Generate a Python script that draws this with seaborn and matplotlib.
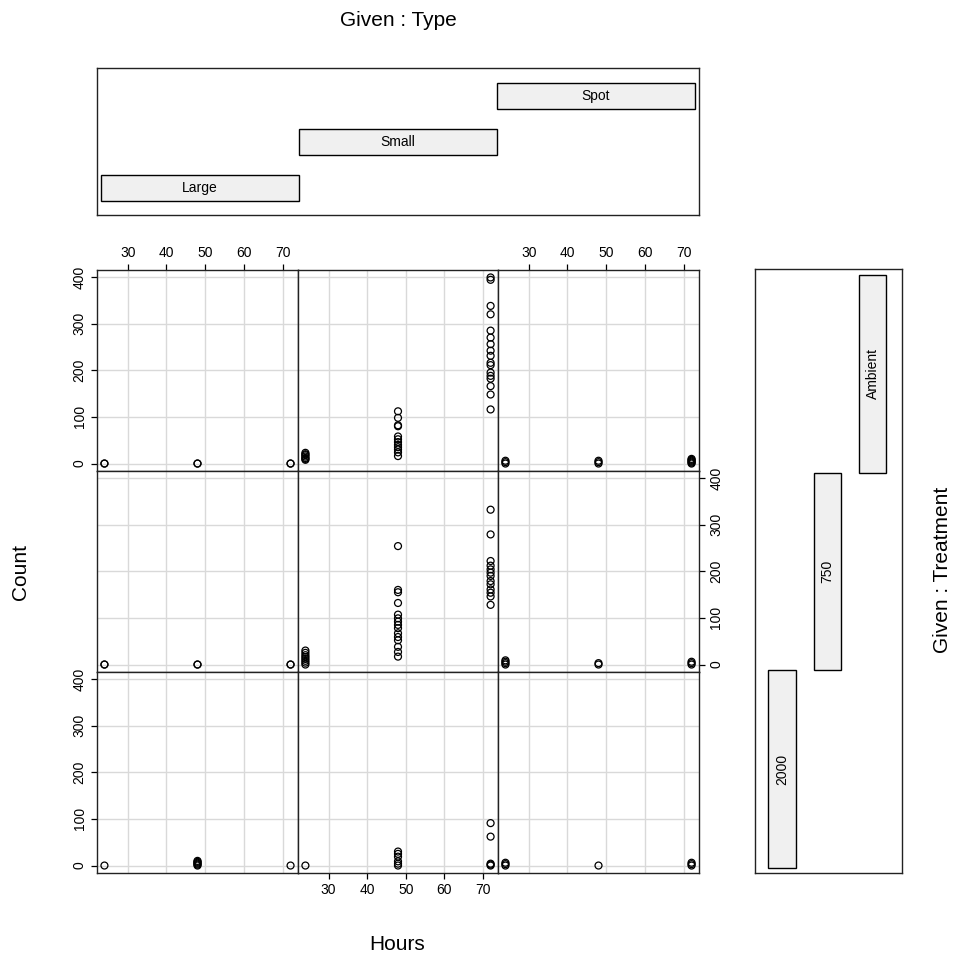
import matplotlib
matplotlib.use("Agg")
import matplotlib.pyplot as plt
import seaborn as sns
import pandas as pd

sns.set_theme(style="white")
plt.rcParams['font.family'] = ['Liberation Sans', 'DejaVu Sans']
plt.rcParams['text.color'] = 'black'
plt.rcParams['axes.labelcolor'] = 'black'
plt.rcParams['xtick.color'] = 'black'
plt.rcParams['ytick.color'] = 'black'

# ---------------- data ----------------
TYPES = ["Large", "Small", "Spot"]
TREATMENTS = ["2000", "750", "Ambient"]          # bottom row -> top row
HOUR_TICKS = [30, 40, 50, 60, 70]
COUNT_TICKS = [0, 100, 200, 300, 400]

# Ambient
ambient_large_hours = [24, 24, 48, 48, 72, 72]
ambient_large_count = [0, 0, 0, 0, 0, 0]
ambient_small_hours = [24] * 7 + [48] * 12 + [72] * 17
ambient_small_count = [8, 10, 12, 15, 18, 20, 23,
                       112, 98, 82, 80, 58, 52, 46, 40, 35, 30, 24, 16,
                       399, 394, 338, 320, 285, 270, 256, 242, 231, 216, 211,
                       195, 188, 182, 166, 148, 116]
ambient_spot_hours = [24, 24, 24, 48, 48, 48, 72, 72, 72, 72, 72, 72]
ambient_spot_count = [0, 3, 6, 0, 3, 6, 0, 2, 4, 6, 8, 10]

# 750
t750_large_hours = [24, 24, 48, 48, 72, 72]
t750_large_count = [0, 0, 0, 0, 0, 0]
t750_small_hours = [24] * 8 + [48] * 15 + [72] * 13
t750_small_count = [0, 4, 8, 12, 16, 20, 25, 30,
                    254, 160, 155, 132, 107, 99, 92, 85, 78, 67, 59, 52, 38, 27, 17,
                    332, 279, 222, 212, 204, 197, 190, 179, 172, 161, 154, 146, 128]
t750_spot_hours = [24, 24, 24, 24, 48, 48, 72, 72, 72]
t750_spot_count = [0, 3, 6, 9, 0, 3, 0, 3, 6]

# 2000
t2000_large_hours = [24, 48, 48, 48, 48, 48, 48, 72]
t2000_large_count = [0, 0, 2, 4, 6, 8, 10, 0]
t2000_small_hours = [24, 48, 48, 48, 48, 48, 48, 72, 72, 72, 72, 72]
t2000_small_count = [0, 30, 25, 19, 9, 4, 0, 91, 62, 0, 2, 4]
t2000_spot_hours = [24, 24, 24, 48, 72, 72, 72]
t2000_spot_count = [0, 3, 6, 0, 0, 3, 6]

panels = {
    ("Ambient", "Large"): (ambient_large_hours, ambient_large_count),
    ("Ambient", "Small"): (ambient_small_hours, ambient_small_count),
    ("Ambient", "Spot"): (ambient_spot_hours, ambient_spot_count),
    ("750", "Large"): (t750_large_hours, t750_large_count),
    ("750", "Small"): (t750_small_hours, t750_small_count),
    ("750", "Spot"): (t750_spot_hours, t750_spot_count),
    ("2000", "Large"): (t2000_large_hours, t2000_large_count),
    ("2000", "Small"): (t2000_small_hours, t2000_small_count),
    ("2000", "Spot"): (t2000_spot_hours, t2000_spot_count),
}
rows = []
for (tr, ty), (hh, cc) in panels.items():
    for h, c in zip(hh, cc):
        rows.append({"Treatment": tr, "Type": ty, "Hours": h, "Count": c})
df = pd.DataFrame(rows)

# ---------------- layout ----------------
W, H = 954, 957
fig = plt.figure(figsize=(W / 100, H / 100), dpi=100)
fig.patch.set_facecolor("white")


def add_ax(x0, y0, x1, y1):
    return fig.add_axes([x0 / W, 1 - y1 / H, (x1 - x0) / W, (y1 - y0) / H])


col_edges = [97, 298, 498, 699]
row_edges = [270, 471, 672, 873]
XLIM = (22.08, 73.92)
YLIM = (-16, 415)
TICK_FS = 10
row_treat = ["Ambient", "750", "2000"]  # top to bottom

for r, tr in enumerate(row_treat):
    for c, ty in enumerate(TYPES):
        ax = add_ax(col_edges[c], row_edges[r], col_edges[c + 1], row_edges[r + 1])
        sub = df[(df.Treatment == tr) & (df.Type == ty)]
        ax.set_axisbelow(True)
        sns.scatterplot(data=sub, x="Hours", y="Count", ax=ax, marker="o",
                        s=25, facecolors="none", edgecolor="black",
                        linewidth=0.9, clip_on=False, zorder=3)
        ax.set_xlim(*XLIM)
        ax.set_ylim(*YLIM)
        ax.set_xticks(HOUR_TICKS)
        ax.set_yticks(COUNT_TICKS)
        ax.set_xlabel("")
        ax.set_ylabel("")
        ax.grid(True, color="#D9D9D9", linewidth=1.0)
        for sp in ax.spines.values():
            sp.set_color("#222222")
            sp.set_linewidth(1.0)
            sp.set_visible(True)
        ax.tick_params(which="both", direction="out", length=4.5, width=0.9,
                       colors="black", labelsize=TICK_FS,
                       bottom=False, top=False, left=False, right=False,
                       labelbottom=False, labeltop=False,
                       labelleft=False, labelright=False, pad=3)
        if r == 0 and c in (0, 2):
            ax.tick_params(axis="x", top=True, labeltop=True)
        if r == 2 and c == 1:
            ax.tick_params(axis="x", bottom=True, labelbottom=True)
        if c == 0 and r in (0, 2):
            ax.tick_params(axis="y", left=True, labelleft=True)
            for lab in ax.get_yticklabels():
                lab.set_rotation(90)
                lab.set_va("center")
        if c == 2 and r == 1:
            ax.tick_params(axis="y", right=True, labelright=True)
            for lab in ax.get_yticklabels():
                lab.set_rotation(90)
                lab.set_va("center")

# ---------------- given: Type (top) ----------------
gt = add_ax(97, 68, 699, 215)
idx = [1, 2, 3]
gt.barh(y=idx, width=1, left=[i - 0.5 for i in idx], height=0.57,
        color="#F0F0F0", edgecolor="black", linewidth=1.0)
for i, lab in zip(idx, TYPES):
    gt.text(i, i, lab, ha="center", va="center", fontsize=10, color="black")
gt.set_xlim(0.48, 3.52)
gt.set_ylim(0.41, 3.62)
gt.set_xticks([])
gt.set_yticks([])
for sp in gt.spines.values():
    sp.set_color("#222222")
    sp.set_linewidth(1.0)

# ---------------- given: Treatment (right) ----------------
gr = add_ax(755, 269, 902, 873)
gr.bar(x=idx, height=1, bottom=[i - 0.5 for i in idx], width=0.6,
       color="#F0F0F0", edgecolor="black", linewidth=1.0)
for i, lab in zip(idx, TREATMENTS):
    gr.text(i, i, lab, ha="center", va="center", rotation=90, fontsize=10, color="black")
gr.set_xlim(0.404, 3.65)
gr.set_ylim(0.475, 3.53)
gr.set_xticks([])
gr.set_yticks([])
for sp in gr.spines.values():
    sp.set_color("#222222")
    sp.set_linewidth(1.0)

# ---------------- labels ----------------
fig.text(398 / W, 1 - 21 / H, "Given : Type", ha="center", va="center", fontsize=15)
fig.text(397 / W, 1 - 945 / H, "Hours", ha="center", va="center", fontsize=15)
fig.text(21 / W, 1 - 572 / H, "Count", ha="center", va="center", rotation=90, fontsize=15)
fig.text(943 / W, 1 - 570 / H, "Given : Treatment", ha="center", va="center",
         rotation=90, fontsize=15)

fig.savefig("out.png", dpi=100, facecolor="white")
